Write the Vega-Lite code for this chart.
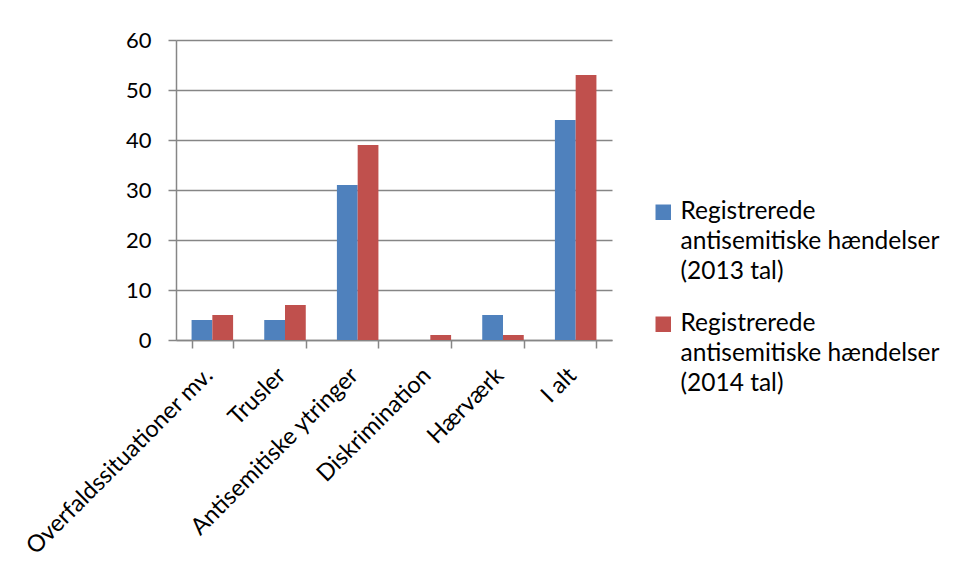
{
  "$schema": "https://vega.github.io/schema/vega-lite/v6.json",
  "autosize": {"type": "none"},
  "padding": {"left": 176, "top": 40, "right": 345, "bottom": 239},
  "width": 436,
  "height": 300,
  "background": "white",
  "config": {
    "view": {"stroke": null},
    "font": "Lato"
  },
  "data": {
    "values": [
      {"kategori": "Overfaldssituationer mv.", "serie": "Registrerede antisemitiske hændelser (2013 tal)", "antal": 4},
      {"kategori": "Overfaldssituationer mv.", "serie": "Registrerede antisemitiske hændelser (2014 tal)", "antal": 5},
      {"kategori": "Trusler", "serie": "Registrerede antisemitiske hændelser (2013 tal)", "antal": 4},
      {"kategori": "Trusler", "serie": "Registrerede antisemitiske hændelser (2014 tal)", "antal": 7},
      {"kategori": "Antisemitiske ytringer", "serie": "Registrerede antisemitiske hændelser (2013 tal)", "antal": 31},
      {"kategori": "Antisemitiske ytringer", "serie": "Registrerede antisemitiske hændelser (2014 tal)", "antal": 39},
      {"kategori": "Diskrimination", "serie": "Registrerede antisemitiske hændelser (2013 tal)", "antal": 0},
      {"kategori": "Diskrimination", "serie": "Registrerede antisemitiske hændelser (2014 tal)", "antal": 1},
      {"kategori": "Hærværk", "serie": "Registrerede antisemitiske hændelser (2013 tal)", "antal": 5},
      {"kategori": "Hærværk", "serie": "Registrerede antisemitiske hændelser (2014 tal)", "antal": 1},
      {"kategori": "I alt", "serie": "Registrerede antisemitiske hændelser (2013 tal)", "antal": 44},
      {"kategori": "I alt", "serie": "Registrerede antisemitiske hændelser (2014 tal)", "antal": 53}
    ]
  },
  "mark": {"type": "bar"},
  "encoding": {
    "x": {
      "field": "kategori",
      "type": "nominal",
      "sort": null,
      "scale": {"paddingInner": 0.4286, "paddingOuter": 0.2143},
      "axis": {
        "title": null,
        "labelAngle": -45,
        "labelAlign": "right",
        "labelBaseline": "top",
        "labelFontSize": 23.5,
        "labelColor": "black",
        "labelPadding": 15,
        "labelOffset": -12,
        "labelLimit": 400,
        "tickBand": "extent",
        "tickSize": 8,
        "tickColor": "#868686",
        "domainColor": "#868686",
        "domainWidth": 1.5,
        "tickWidth": 1.5
      }
    },
    "xOffset": {"field": "serie", "type": "nominal"},
    "y": {
      "field": "antal",
      "type": "quantitative",
      "scale": {"domain": [0, 60], "nice": false},
      "axis": {
        "title": null,
        "values": [0, 10, 20, 30, 40, 50, 60],
        "labelFontSize": 22,
        "labelColor": "black",
        "labelPadding": 17,
        "tickSize": 8,
        "tickColor": "#868686",
        "tickWidth": 1.5,
        "domainColor": "#868686",
        "domainWidth": 1.5,
        "grid": true,
        "gridColor": "#868686",
        "gridWidth": 1.5
      }
    },
    "color": {
      "field": "serie",
      "type": "nominal",
      "scale": {"range": ["#4F81BD", "#C0504D"]},
      "legend": {
        "title": null,
        "orient": "none",
        "legendX": 475,
        "legendY": 160,
        "symbolType": "square",
        "symbolSize": 240,
        "symbolStrokeWidth": 0,
        "labelFontSize": 24.5,
        "labelColor": "black",
        "labelLimit": 400,
        "labelOffset": 5,
        "rowPadding": 27,
        "labelExpr": "indexof(datum.label, '2013') >= 0 ? ['Registrerede', 'antisemitiske hændelser', '(2013 tal)'] : ['Registrerede', 'antisemitiske hændelser', '(2014 tal)']",
        "encode": {"labels": {"update": {"lineHeight": {"value": 30}}}}
      }
    }
  }
}
